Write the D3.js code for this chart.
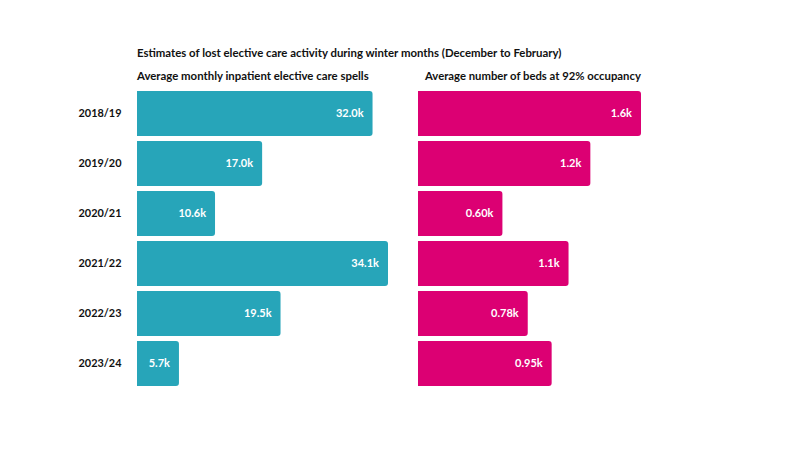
<!DOCTYPE html>
<html><head><meta charset="utf-8">
<script src="https://cdn.jsdelivr.net/npm/d3@7"></script>
<style>body{margin:0;background:#fff}svg{display:block}text{font-family:Lato,"Open Sans",sans-serif;font-weight:bold}</style>
</head><body><svg id="c" width="790" height="463"></svg>
<script>
const years = ["2018/19","2019/20","2020/21","2021/22","2022/23","2023/24"];
const spells = [32.0, 17.0, 10.6, 34.1, 19.5, 5.7];        // thousands
const beds = [1.585, 1.225, 0.60, 1.07, 0.78, 0.95];        // thousands
const title = "Estimates of lost elective care activity during winter months (December to February)";
const subLeft = "Average monthly inpatient elective care spells";
const subRight = "Average number of beds at 92% occupancy";

const svg = d3.select("#c");
const y = d3.scaleBand().domain(years).range([91, 386]).paddingInner(0.1).paddingOuter(0);
const xL = d3.scaleLinear().domain([0, 34.1]).range([137, 388]);
const xR = d3.scaleLinear().domain([0, 1.585]).range([418, 641]);

svg.append("text").attr("x",137).attr("y",56.5).attr("font-size",11.4).attr("fill","#111").text(title);
svg.append("text").attr("x",137).attr("y",79.5).attr("font-size",11.4).attr("fill","#111").text(subLeft);
svg.append("text").attr("x",425).attr("y",79.5).attr("font-size",11.3).attr("fill","#111").text(subRight);

const yAxis = d3.axisLeft(y).tickSize(0).tickPadding(0);
const ga = svg.append("g").attr("transform","translate(121.5,0)").call(yAxis);
ga.select(".domain").remove();
ga.selectAll("text").attr("font-size",10.9).attr("fill","#111").attr("dy","0.36em")
  .style("font-family","Lato,sans-serif").style("font-weight","bold");

function barPath(x0, x1, y0, h, r){
  r = Math.min(r, (x1-x0)/2);
  return `M${x0},${y0}H${x1-r}Q${x1},${y0} ${x1},${y0+r}V${y0+h-r}Q${x1},${y0+h} ${x1-r},${y0+h}H${x0}Z`;
}
function panel(vals, x, color, fmt){
  const g = svg.append("g");
  g.selectAll("path").data(vals).join("path")
    .attr("d",(d,i)=>barPath(x(0), x(d), y(years[i]), y.bandwidth(), 3))
    .attr("fill",color);
  g.selectAll("text").data(vals).join("text")
    .attr("x",d=>x(d)-9).attr("y",(d,i)=>y(years[i])+y.bandwidth()/2)
    .attr("dy","0.36em").attr("text-anchor","end").attr("font-size",11)
    .attr("fill","#fff").text(fmt);
}
panel(spells, xL, "#27a5b9", d=>d.toFixed(1)+"k");
panel(beds, xR, "#dc0073", d=>d.toPrecision(2)+"k");
</script></body></html>
